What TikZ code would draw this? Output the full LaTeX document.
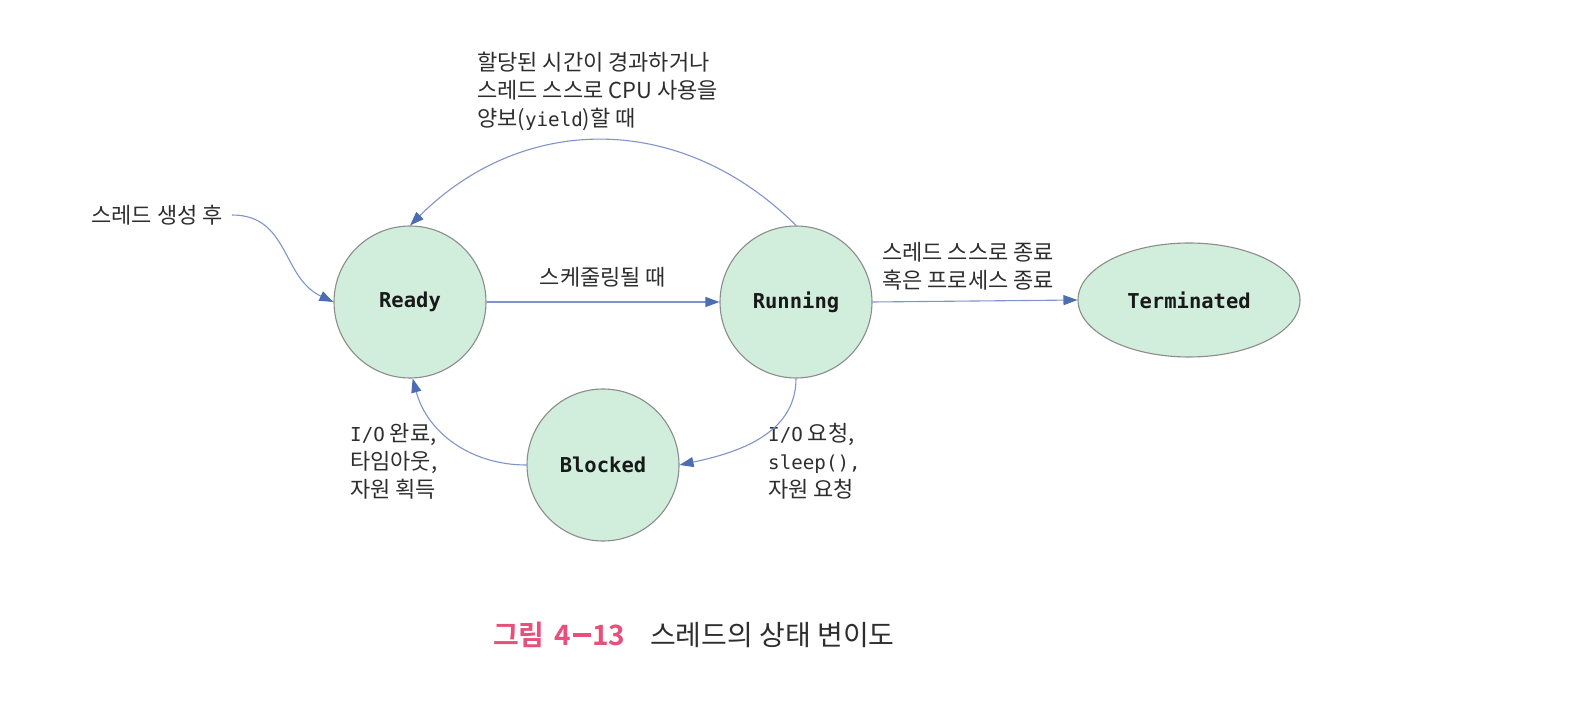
\documentclass[tikz,border=0pt]{standalone}
\usepackage{fontspec}
\setmainfont{Noto Sans CJK KR}[BoldFont={Noto Sans CJK KR Bold}]
\newfontfamily\monof{DejaVu Sans Mono}
\usetikzlibrary{arrows.meta,shapes.geometric}
\definecolor{mint}{HTML}{D1EEDD}
\definecolor{rimgray}{HTML}{8C8C8C}
\definecolor{linkblue}{HTML}{8193CC}
\definecolor{tipblue}{HTML}{4D6DB3}
\definecolor{labelgray}{HTML}{2E2E2E}
\definecolor{capink}{HTML}{E8507C}
\newcommand\mymono[1]{{\monof\fontsize{19.2}{28}\selectfont #1}}
\tikzset{
  state/.style={circle, draw=rimgray, line width=1.1pt, fill=mint, minimum size=152pt, inner sep=0pt,
     font=\monof\bfseries\fontsize{20.5}{24}\selectfont, text=black!90},
  endstate/.style={ellipse, draw=rimgray, line width=1.1pt, fill=mint, minimum width=222pt, minimum height=114pt, inner sep=0pt,
     font=\monof\bfseries\fontsize{20.5}{24}\selectfont, text=black!90},
  lbl/.style={font=\fontsize{22}{28}\selectfont, text=labelgray, align=left, inner sep=0pt},
  link/.style={draw=linkblue, line width=1.1pt, -{Triangle[length=14pt,width=10pt,color=tipblue]}}
}
\begin{document}
\begin{tikzpicture}[x=1pt,y=1pt]
\useasboundingbox[fill=white] (0,0) rectangle (1590,702);

\node[state] (ready) at (410,400) {Ready};
\node[state] (running) at (796,400) {Running};
\node[state] (blocked) at (603,237) {Blocked};
\node[endstate] (term) at (1189,402) {Terminated};

\node[lbl, anchor=east, inner xsep=9pt] (create) at (232,487) {스레드 생성 후};
\node[lbl, anchor=north west] (yieldlbl) at (477,650) {할당된 시간이 경과하거나\\스레드 스스로 CPU 사용을\\양보(\mymono{yield})할 때};
\node[lbl, anchor=center] (schedlbl) at (603,425) {스케줄링될 때};
\node[lbl, anchor=west] (termlbl) at (882,436) {스레드 스스로 종료\\혹은 프로세스 종료};
\node[lbl, anchor=west] (wakelbl) at (350,241) {\mymono{I/O} 완료,\\타임아웃,\\자원 획득};
\node[lbl, anchor=west] (waitlbl) at (768,241) {\mymono{I/O} 요청,\\\mymono{sleep(),}\\자원 요청};

\draw[link] (create.east) to[out=0,in=155,looseness=1.1] (ready.west);
\draw[link] (ready.east) -- (running.west);
\draw[link] (running.east) -- (term.west);
\draw[link] (running.north) .. controls (682,590) and (524,590) .. (ready.north);
\draw[link] (running.south) to[out=-90,in=12] (blocked.east);
\draw[link] (blocked.west) to[out=180,in=-75] (ready.-88);

\node[anchor=base west, inner sep=0pt, font=\bfseries\fontsize{28}{34}\selectfont, text=capink] (capnum) at (493,57)
  {그림\hspace{10pt}4\kern1.5pt\rule[8.5pt]{18pt}{3.2pt}\kern1.5pt 13};
\node[anchor=base west, inner sep=0pt, font=\fontsize{28}{34}\selectfont, text=labelgray] (captitle) at (650,57)
  {스레드의 상태 변이도};
\end{tikzpicture}
\end{document}
